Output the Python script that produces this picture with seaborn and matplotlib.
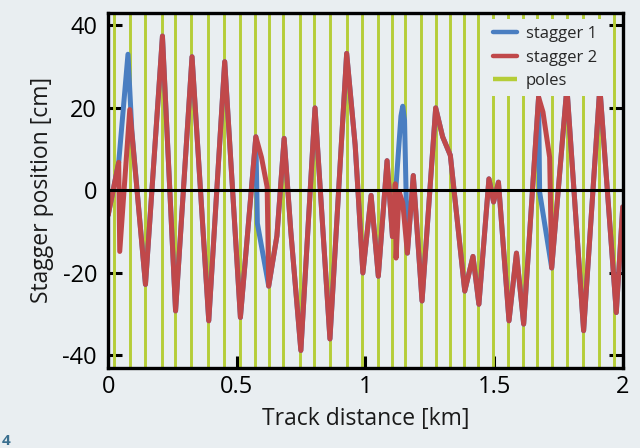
import numpy as np
import pandas as pd
import matplotlib
matplotlib.use("Agg")
import matplotlib.pyplot as plt
import seaborn as sns

# ── Data ────────────────────────────────────────────────────────────────────
poles_km = [0.022, 0.083, 0.144, 0.208, 0.259, 0.322, 0.389, 0.450, 0.512,
            0.569, 0.624, 0.680, 0.745, 0.800, 0.862, 0.927, 0.986, 1.048,
            1.105, 1.155, 1.215, 1.273, 1.328, 1.382, 1.437, 1.496, 1.554,
            1.612, 1.667, 1.725, 1.783, 1.845, 1.908, 1.966]

s2_km = [0.000, 0.041, 0.045, 0.084, 0.145, 0.211, 0.262, 0.326, 0.391, 0.453,
         0.514, 0.574, 0.596, 0.618, 0.624, 0.656, 0.684, 0.710, 0.749, 0.804,
         0.862, 0.927, 0.960, 0.968, 0.990, 1.022, 1.050, 1.084, 1.105, 1.116,
         1.119, 1.131, 1.145, 1.163, 1.186, 1.220, 1.273, 1.300, 1.330, 1.386,
         1.418, 1.441, 1.480, 1.498, 1.517, 1.558, 1.587, 1.615, 1.673, 1.690,
         1.716, 1.724, 1.783, 1.848, 1.911, 1.975, 2.000]
s2_cm = [-6.0, 6.8, -14.8, 19.6, -22.8, 37.4, -29.2, 32.4, -31.6, 31.2,
         -30.8, 13.0, 8.0, 0.8, -23.2, -11.0, 12.6, -10.0, -38.8, 20.0,
         -36.0, 33.2, 11.0, 3.0, -20.0, -1.2, -20.8, 7.2, -11.2, 1.6,
         -16.4, -0.4, -3.0, -15.2, 3.6, -26.8, 20.0, 13.0, 8.5, -24.4,
         -16.0, -27.6, 2.8, -2.8, 2.0, -31.6, -15.2, -32.4, 22.6, 19.0,
         8.0, -18.8, 25.0, -34.0, 25.0, -29.6, -4.0]

s1_km = [0.000, 0.041, 0.077, 0.092, 0.145, 0.211, 0.262, 0.326, 0.391, 0.453,
         0.514, 0.574, 0.580, 0.624, 0.656, 0.684, 0.710, 0.749, 0.804,
         0.862, 0.927, 0.960, 0.968, 0.990, 1.022, 1.050, 1.084, 1.105, 1.138,
         1.145, 1.152, 1.163, 1.186, 1.220, 1.273, 1.300, 1.330, 1.386,
         1.418, 1.441, 1.480, 1.498, 1.517, 1.558, 1.587, 1.615, 1.673, 1.677,
         1.724, 1.783, 1.848, 1.911, 1.975, 2.000]
s1_cm = [-6.0, 6.8, 33.0, 14.5, -22.8, 37.4, -29.2, 32.4, -31.6, 31.2,
         -30.8, 13.0, -8.0, -23.2, -11.0, 12.6, -10.0, -38.8, 20.0,
         -36.0, 33.2, 11.0, 3.0, -20.0, -1.2, -20.8, 7.2, -11.2, 18.0,
         20.4, 17.0, -15.2, 3.6, -26.8, 20.0, 13.0, 8.5, -24.4,
         -16.0, -27.6, 2.8, -2.8, 2.0, -31.6, -15.2, -32.4, 22.6, -0.4,
         -18.8, 25.0, -34.0, 25.0, -29.6, -4.0]

x_ticks = [0, 0.5, 1, 1.5, 2]
x_ticklabels = ["0", "0.5", "1", "1.5", "2"]
y_ticks = [-40, -20, 0, 20, 40]

# ── Style ───────────────────────────────────────────────────────────────────
BG = "#e9eef1"
BLUE = "#4a7ec1"
RED = "#c0484a"
GREEN = "#b5cd38"

sns.set_theme(style="ticks")
plt.rcParams["font.family"] = ["Open Sans", "DejaVu Sans"]

df = pd.concat([
    pd.DataFrame({"km": s1_km, "cm": s1_cm, "series": "stagger 1"}),
    pd.DataFrame({"km": s2_km, "cm": s2_cm, "series": "stagger 2"}),
])

fig = plt.figure(figsize=(6.4, 4.48), dpi=100, facecolor=BG)
ax = fig.add_axes([0.169, 0.179, 0.804, 0.792])
ax.set_facecolor(BG)

ax.vlines(poles_km, -50, 50, color=GREEN, linewidth=2.1, zorder=1, label="poles")
sns.lineplot(data=df, x="km", y="cm", hue="series",
             palette={"stagger 1": BLUE, "stagger 2": RED},
             sort=False, estimator=None, linewidth=3.6, ax=ax, zorder=2)
ax.axhline(0, color="black", linewidth=2.2, zorder=4)

ax.set_xlim(0, 2)
ax.set_ylim(-43, 43)
ax.set_xticks(x_ticks, x_ticklabels)
ax.set_yticks(y_ticks, [str(v) for v in y_ticks])
ax.tick_params(axis="y", direction="in", length=10, width=2.2, right=True,
               labelsize=17, pad=8, colors="black")
ax.tick_params(axis="x", direction="in", length=9, width=2.2,
               labelsize=17, pad=5, colors="black")
for sp in ax.spines.values():
    sp.set_visible(True)
    sp.set_color("black")
    sp.set_linewidth(2.4)
    sp.set_zorder(5)

ax.set_xlabel("Track distance [km]", fontsize=16.5, labelpad=6, color="#1a1a1a")
ax.set_ylabel("Stagger position [cm]", fontsize=16.5, labelpad=6, color="#1a1a1a")

handles, labels = ax.get_legend_handles_labels()
order = [labels.index(n) for n in ["stagger 1", "stagger 2", "poles"]]
leg = ax.legend([handles[i] for i in order], [labels[i] for i in order],
                loc="upper right", bbox_to_anchor=(0.963, 0.982),
                fontsize=12, frameon=True, facecolor=BG,
                edgecolor="none", framealpha=1, fancybox=False,
                handlelength=1.4, handletextpad=0.55, labelspacing=0.45,
                borderpad=0.4, borderaxespad=0.0)
for h in leg.get_lines():
    h.set_linewidth(3.2)
leg.set_zorder(6)

fig.text(0.002, 0.006, "4", fontsize=11, fontweight="bold", color="#3a6f8f")

fig.savefig("out.png", dpi=100, facecolor=BG)
